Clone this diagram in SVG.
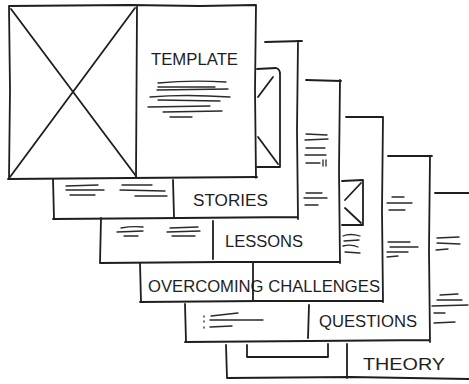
<svg xmlns="http://www.w3.org/2000/svg" width="469" height="384" viewBox="0 0 469 384">
<style>
.s{fill:none;stroke:#1e1e1e;stroke-width:1.8;stroke-linecap:round;stroke-linejoin:round}
.t{fill:none;stroke:#2a2a2a;stroke-width:1.3;stroke-linecap:round}
.lbl{font-family:"Liberation Sans",Arial,sans-serif;fill:#1e1e1e;font-size:16px}
</style>
<rect width="469" height="384" fill="#fff"/>
<g id="card-theory">
<path class="s" d="M435,193 L469,193 M228,378 L350,377 L469,379 M226,345 L227,378 M347,344 L347,378"/>
<path class="s" d="M247,345 L247,357 L328,357 L328,344"/>
<path class="t" d="M437,238 L459,237 M437,243 L460,244 M436,250 L448,249 M440,295 L458,294 M437,300 L462,300 M432,306 L468,305 M434,313 L445,313 M434,323 L455,322"/>
<text class="lbl" x="363" y="370" textLength="82" lengthAdjust="spacingAndGlyphs">THEORY</text>
</g>
<g id="card-questions">
<path class="s" d="M388,156 L432,156 M430,156 L429,250 L430,342 M185,342 L310,341 L430,340 M185,304 L186,342 M309,305 L308,338"/>
<path class="t" d="M204,316 L204,317 M204,321 L204,322 M204,327 L204,328 M211,316 L238,313 M210,320 L263,320 M210,327 L232,326"/>
<path class="t" d="M392,197 L404,197 M387,203 L412,203 M389,210 L405,210 M388,242 L410,242 M390,247 L418,247 M387,252 L408,252 M387,257 L398,256"/>
<text class="lbl" x="319" y="327" textLength="98" lengthAdjust="spacingAndGlyphs">QUESTIONS</text>
</g>
<g id="card-overcoming">
<path class="s" d="M346,117 L383,117 M383,117 L382,210 L383,302 M140,302 L260,301 L383,301 M140,263 L141,302 M253,263 L253,300"/>
<path class="s" d="M342,181 L363,180 L363,225 L342,225 M361,183 L345,200 M345,208 L361,223"/>
<path class="t" d="M343,236 Q350,233 360,236 M344,241 L359,240 M343,246 Q351,244 358,247 M345,252 L360,253"/>
<text class="lbl" x="148" y="292" font-size="15" textLength="232" lengthAdjust="spacingAndGlyphs">OVERCOMING CHALLENGES</text>
</g>
<g id="card-lessons">
<path class="s" d="M306,80 L341,81 M340,80 L339,170 L340,263 M100,263 L220,262 L340,262 M101,218 L100,263 M213,221 L213,259"/>
<path class="t" d="M121,228 Q132,226 143,227 M117,232 L143,231 M124,236 L138,236 M170,228 L198,227 M167,232 L200,231 M172,236 L195,236"/>
<path class="t" d="M306,134 L327,135 M305,140 L328,139 M306,148 L325,148 M305,155 L326,155 M306,163 L320,163 M323,160 L323,166 M326,160 L326,166 M306,193 L322,193 M304,198 L327,198 M305,205 L318,205"/>
<text class="lbl" x="225" y="247" textLength="78" lengthAdjust="spacingAndGlyphs">LESSONS</text>
</g>
<g id="card-stories">
<path class="s" d="M265,42 L302,41 M298,41 L297,130 L298,219 M53,219 L180,218 L298,217 M53,179 L54,219 M173,180 L174,217"/>
<path class="s" d="M257,69 L276,68 Q280,69 280,74 L280,167 M257,167 L280,167 M273,77 L258,97 M258,137 L278,164"/>
<path class="t" d="M66,186 L98,185 M66,190 L104,190 M70,195 L95,195 M122,185 L152,185 M120,190 L165,191 M135,196 L167,196"/>
<text class="lbl" x="193" y="206" textLength="75" lengthAdjust="spacingAndGlyphs">STORIES</text>
</g>
<g id="card-template">
<path class="s" d="M9,6 L130,5 L200,6 L256,5 M256,5 L255,90 L256,178 M8,179 L130,178 L257,177 M9,6 L10,90 L9,179 M137,7 L136,178"/>
<path class="s" d="M11,9 L136,176 M135,8 L10,177"/>
<path class="t" d="M158,83 Q190,80 226,82 M158,87 L215,87 M157,90 L228,89 M150,97 Q185,94 230,97 M158,100 L220,101 M148,107 L210,106 M163,112 L222,111 M170,117 L192,117"/>
<text class="lbl" x="151" y="65" textLength="87" lengthAdjust="spacingAndGlyphs">TEMPLATE</text>
</g>
<g id="connectors"/>
</svg>
